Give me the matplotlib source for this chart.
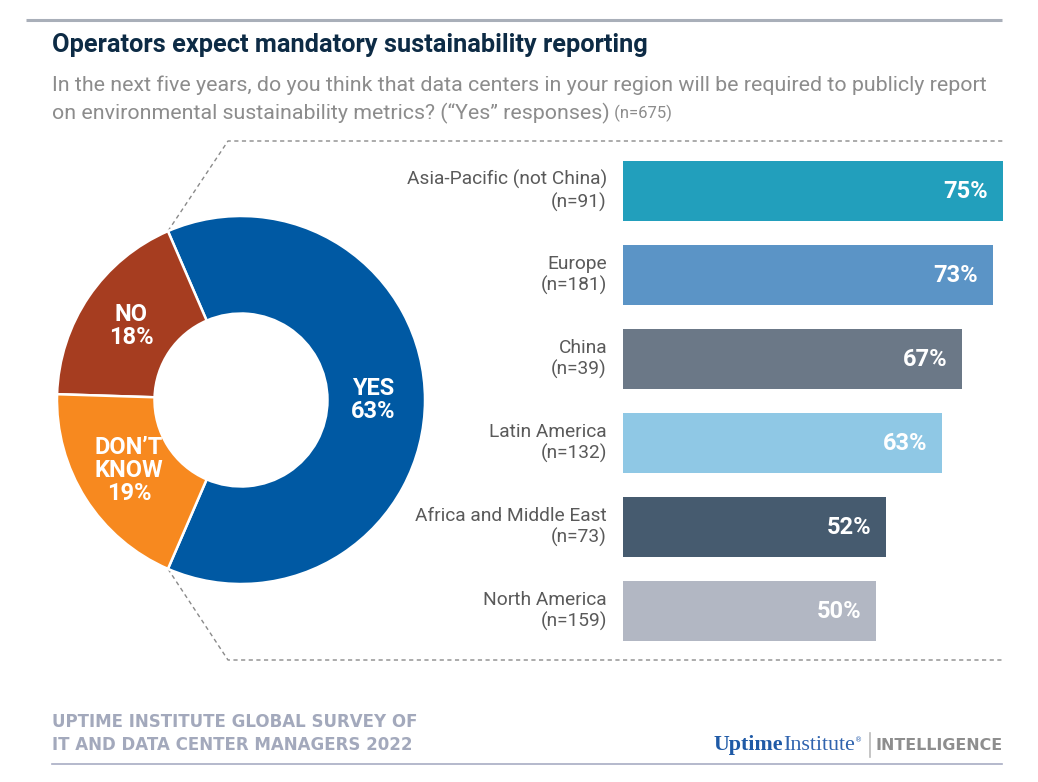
import matplotlib.pyplot as plt
import numpy as np

# ---------------- data ----------------
donut_labels = ["YES", "NO", "DON\u2019T\nKNOW"]
donut_values = [63, 18, 19]
donut_colors = ["#0059A3", "#A63D20", "#F7891F"]

regions = ["Asia-Pacific (not China)", "Europe", "China", "Latin America",
           "Africa and Middle East", "North America"]
region_n = [91, 181, 39, 132, 73, 159]
region_values = [75, 73, 67, 63, 52, 50]
bar_colors = ["#229FBC", "#5B94C6", "#6B7887", "#8FC8E5", "#465B6F", "#B2B7C3"]

title = "Operators expect mandatory sustainability reporting"
subtitle1 = "In the next five years, do you think that data centers in your region will be required to publicly report"
subtitle2 = "on environmental sustainability metrics? (\u201cYes\u201d responses)"
subtitle_n = "(n=675)"
footer1 = "UPTIME INSTITUTE GLOBAL SURVEY OF"
footer2 = "IT AND DATA CENTER MANAGERS 2022"

plt.rcParams['font.family'] = ['Roboto', 'DejaVu Sans']

W, H = 1038, 782
fig = plt.figure(figsize=(W / 100, H / 100), dpi=100)
bg = fig.add_axes([0, 0, 1, 1])
bg.set_xlim(0, W)
bg.set_ylim(H, 0)
bg.axis('off')

# header
bg.plot([26, 1002], [19.5, 19.5], color="#A9AFB9", lw=2.2, solid_capstyle='butt')
bg.text(52, 45, title, fontsize=18.3, fontweight='bold', color="#0D2B45",
        va='center', ha='left')
bg.text(52, 85, subtitle1, fontsize=15.4, color="#8C8C8C", va='center', ha='left')
t_sub2 = bg.text(52, 113, subtitle2, fontsize=15.4, color="#8C8C8C", va='center', ha='left')
bg.annotate(" " + subtitle_n, xy=(1, 0.5), xycoords=t_sub2, fontsize=12,
            color="#8C8C8C", va='center', ha='left')

# ---------------- donut ----------------
cx, cy, R = 241, 400, 184
dax = fig.add_axes([(cx - R) / W, 1 - (cy + R) / H, 2 * R / W, 2 * R / H])
start = -donut_values[0] / 100 * 360 / 2
wedges, _ = dax.pie(donut_values, colors=donut_colors, startangle=start,
                    counterclock=True, radius=1,
                    wedgeprops=dict(width=0.53, edgecolor='white', linewidth=1.8))
dax.set_xlim(-1, 1)
dax.set_ylim(-1, 1)
dax.set_aspect('auto')
dax.axis('off')

for w, lab, v in zip(wedges, donut_labels, donut_values):
    mid = np.deg2rad((w.theta1 + w.theta2) / 2)
    r = 0.72
    x, y = r * np.cos(mid), r * np.sin(mid)
    dax.text(x, y, f"{lab}\n{v}%", ha='center', va='center', color='white',
             fontsize=17, fontweight='bold', linespacing=1.0)

# dashed connectors from YES wedge edges
yes = wedges[0]
for ang, yend in ((yes.theta2, 141), (yes.theta1, 660)):
    a = np.deg2rad(ang)
    px, py = cx + R * np.cos(a), cy - R * np.sin(a)
    bg.plot([px, 228, 1003], [py, yend, yend], color="#8A8A8A", lw=1,
            ls=(0, (3, 2.5)))

# ---------------- bars ----------------
bx0, bx1 = 623, 1003
by0, by1 = 149, 653
bax = fig.add_axes([bx0 / W, 1 - by1 / H, (bx1 - bx0) / W, (by1 - by0) / H])
ypos = np.arange(len(regions))
bax.barh(ypos, region_values, height=0.714, color=bar_colors)
bax.set_xlim(0, max(region_values))
bax.set_ylim(len(regions) - 0.5, -0.5)
bax.axis('off')
for i, (name, n, v) in enumerate(zip(regions, region_n, region_values)):
    bax.annotate(f"{name}\n(n={n})", xy=(0, i), xytext=(-16, 0),
                 textcoords='offset pixels', ha='right', va='center',
                 fontsize=13.8, color="#5A5A5A", linespacing=1.25,
                 annotation_clip=False)
    bax.annotate(f"{v}%", xy=(v, i), xytext=(-15, 0), textcoords='offset pixels',
                 ha='right', va='center', fontsize=17, fontweight='bold',
                 color='white')

# ---------------- footer ----------------
bg.text(52, 722, footer1, fontsize=12, fontweight='bold', color="#A3A9BC",
        family='DejaVu Sans', va='center', ha='left')
bg.text(52, 745, footer2, fontsize=12, fontweight='bold', color="#A3A9BC",
        family='DejaVu Sans', va='center', ha='left')
bg.plot([52, 1002], [764, 764], color="#A8ADC4", lw=1.2)

t_up = bg.text(714, 745, "Uptime", fontsize=15.8, fontweight='bold',
               family='Liberation Serif', color="#1F5AA6", va='center', ha='left')
t_in = bg.annotate("Institute", xy=(1, 0), xycoords=t_up, fontsize=15.8,
                   family='Liberation Serif', color="#2F63AE", va='bottom', ha='left')
bg.annotate("\u00ae", xy=(1, 0.75), xycoords=t_in, fontsize=5,
            family='DejaVu Sans', color="#2F63AE", va='center', ha='left')
bg.plot([870, 870], [733, 757], color="#BBBBBB", lw=1.2)
bg.text(1003, 745, "INTELLIGENCE", fontsize=11.4, fontweight='bold',
        family='DejaVu Sans', color="#8E8E8E", va='center', ha='right')

fig.savefig("out.png", dpi=100)
